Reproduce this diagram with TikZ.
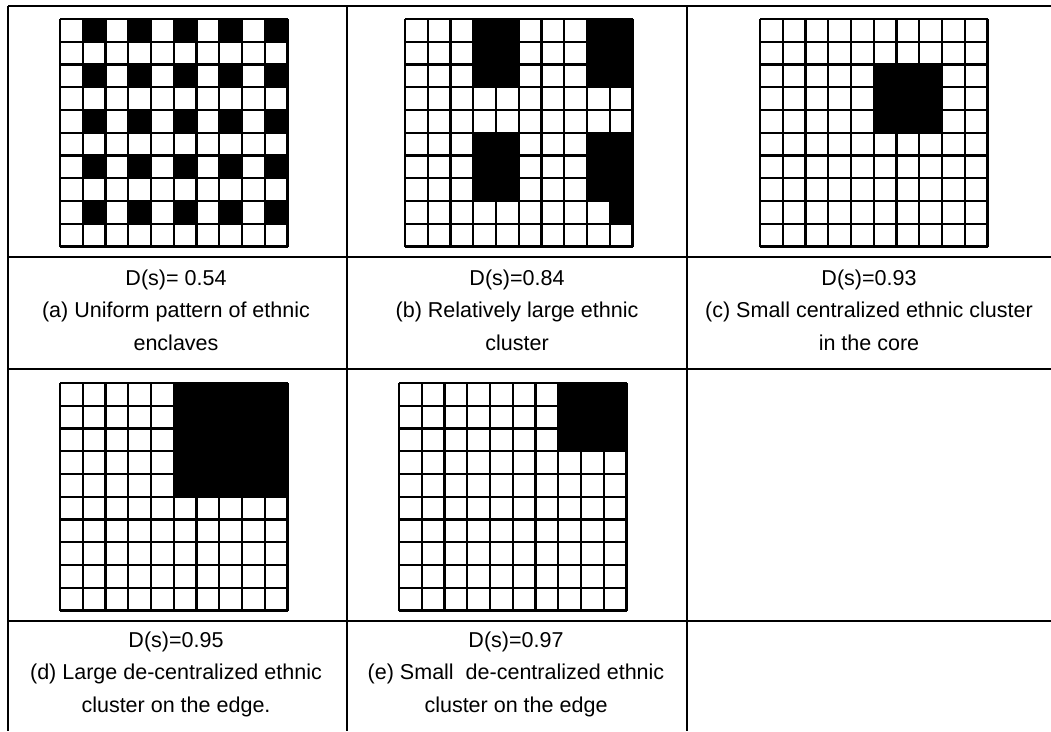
\documentclass[tikz,border=0pt]{standalone}
\usepackage{fontspec}
\setmainfont{Liberation Sans}
\usepackage{tikz}

% 10x10 lattice, top-left corner at (#1,#2)
\newcommand{\cellmap}[2]{%
  \foreach \i in {0,...,10} {
    \draw[cellline] ({#1+\i*22.75},#2) -- ({#1+\i*22.75},{#2+227.5});
    \draw[cellline] (#1,{#2+\i*22.75}) -- ({#1+227.5},{#2+\i*22.75});
  }}
% black block: corner (#1,#2), column #3, row #4, #5 wide, #6 high
\newcommand{\block}[6]{%
  \fill ({#1+#3*22.75},{#2+#4*22.75}) rectangle ++({#5*22.75},{#6*22.75});}

\begin{document}
\begin{tikzpicture}[
    x=0.025cm, y=-0.025cm,
    rule/.style={line width=1.3pt},
    cellline/.style={line width=1.5pt},
    caption/.style={align=center, anchor=base, inner sep=0pt, font=\fontsize{15.3}{22.8}\selectfont}
]

\useasboundingbox (0,0) rectangle (1051,731);

% Table rules
\draw[rule] (8,6) -- (1051,6);
\foreach \y in {257,369,621}
  \draw[rule] (8,\y) -- (1051,\y);
\foreach \x in {8,347,687}
  \draw[rule] (\x,6) -- (\x,731);

% (a) Uniform pattern
\foreach \r in {0,2,...,8} {
  \foreach \c in {1,3,...,9} {
    \block{60}{19}{\c}{\r}{1}{1}
  }
}
\cellmap{60}{19}

% (b) Relatively large cluster
\block{405}{19}{3}{0}{2}{3}
\block{405}{19}{8}{0}{2}{3}
\block{405}{19}{3}{5}{2}{3}
\block{405}{19}{8}{5}{2}{3}
\block{405}{19}{9}{8}{1}{1}
\cellmap{405}{19}

% (c) Centralized cluster
\block{760}{19}{5}{2}{3}{3}
\cellmap{760}{19}

% (d) Large cluster on the edge
\block{60}{383}{5}{0}{5}{5}
\cellmap{60}{383}

% (e) Small cluster on the edge
\block{399}{383}{7}{0}{3}{3}
\cellmap{399}{383}

% Captions (anchored at the baseline of their last line)
\node[caption] (capa) at (176,350) {D(s)= 0.54\\(a) Uniform pattern of ethnic\\enclaves};
\node[caption] (capb) at (517,350) {D(s)=0.84\\(b) Relatively large ethnic\\cluster};
\node[caption] (capc) at (869,350) {D(s)=0.93\\(c) Small centralized ethnic cluster\\in the core};
\node[caption] (capd) at (176,712) {D(s)=0.95\\(d) Large de-centralized ethnic\\cluster on the edge.};
\node[caption] (cape) at (516,712) {D(s)=0.97\\(e) Small\ \ de-centralized ethnic\\cluster on the edge};

\end{tikzpicture}
\end{document}
